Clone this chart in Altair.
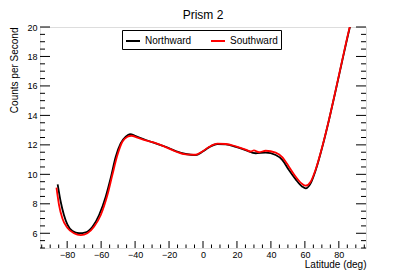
import altair as alt
import pandas as pd

TITLE = "Prism 2"

# Northward (black)
lat_n = [-85.6, -83.8, -81.9, -79.9, -76.9, -73.0, -69.1, -65.1, -61.2, -57.3, -54.4, -51.4,
         -48.5, -45.5, -43.0, -39.6, -33.7, -27.9, -22.0, -16.1, -10.2, -4.3, -0.4, 3.5, 8.5,
         13.4, 19.3, 25.1, 31.0, 36.9, 42.8, 46.8, 50.6, 54.6, 58.5, 60.5, 63.4, 66.4, 70.3,
         74.2, 78.2, 82.1, 86.1, 88.0]
val_n = [9.32, 8.14, 7.24, 6.60, 6.15, 6.00, 6.06, 6.44, 7.24, 8.48, 9.73, 11.20,
         12.10, 12.55, 12.72, 12.60, 12.33, 12.10, 11.87, 11.58, 11.38, 11.31, 11.53, 11.83, 12.06,
         12.04, 11.87, 11.65, 11.43, 11.47, 11.31, 10.97, 10.29, 9.66, 9.16, 9.05, 9.39, 10.29, 11.87,
         13.69, 15.72, 17.76, 19.80, 20.70]

# Southward (red)
lat_s = [-86.3, -84.8, -82.8, -79.9, -76.0, -72.0, -68.1, -64.2, -60.2, -56.3, -53.4, -50.4,
         -47.5, -44.5, -42.2, -38.6, -33.7, -27.9, -22.0, -16.1, -10.2, -4.3, -0.4, 3.5, 8.5,
         13.4, 19.3, 25.1, 28.0, 30.0, 33.0, 36.9, 42.8, 46.8, 50.6, 54.6, 58.5, 60.5, 63.4,
         66.4, 70.3, 74.2, 78.2, 82.1, 86.1, 88.0]
val_s = [9.09, 7.92, 7.00, 6.37, 6.00, 5.88, 6.00, 6.44, 7.24, 8.59, 9.95, 11.31,
         12.21, 12.55, 12.62, 12.49, 12.30, 12.12, 11.85, 11.55, 11.35, 11.33, 11.55, 11.85, 12.08,
         12.06, 11.90, 11.68, 11.55, 11.62, 11.50, 11.60, 11.47, 11.15, 10.52, 9.84, 9.34, 9.23, 9.50,
         10.35, 11.90, 13.70, 15.75, 17.80, 19.85, 20.70]

series = ["Northward", "Southward"]
colors = ["black", "#ff0000"]

x_major = [-80, -60, -40, -20, 0, 20, 40, 60, 80]
x_minor = [v for v in range(-95, 96, 5) if v not in x_major]
y_major = [6, 8, 10, 12, 14, 16, 18, 20]
y_minor = [v / 2 for v in range(10, 41) if (v / 2) not in y_major]

W, H = 326, 221
FONT = "Liberation Sans"

df = pd.concat([
    pd.DataFrame({"lat": lat_n, "val": val_n, "dir": series[0]}),
    pd.DataFrame({"lat": lat_s, "val": val_s, "dir": series[1]}),
])

xs = alt.Scale(domain=[-96, 96], nice=False, zero=False)
ys = alt.Scale(domain=[5, 20], nice=False, zero=False)

xaxis = alt.Axis(
    values=x_major, ticks=False, domain=False, grid=False, labelFontSize=9, labelFont=FONT,
    labelPadding=2, labelColor="black", title="Latitude (deg)", titleFont=FONT, titleFontSize=10,
    titleFontWeight="normal", titleAnchor="end", titleAlign="right", titleX=W, titleY=19,
    titleBaseline="alphabetic", titleColor="black", labelFlush=False, labelOverlap=False)
yaxis = alt.Axis(
    values=y_major, ticks=False, domain=False, grid=False, labelFontSize=9, labelFont=FONT,
    labelPadding=3, labelColor="black", title="Counts per Second", titleFont=FONT,
    titleFontSize=10, titleFontWeight="normal", titleAngle=-90, titleAlign="right",
    titleX=-25.5, titleY=0, titleBaseline="middle", titleColor="black",
    labelFlush=False, labelOverlap=False)

lines = alt.Chart(df).mark_line(strokeWidth=1.8, interpolate="monotone", clip=True).encode(
    x=alt.X("lat:Q", scale=xs, axis=xaxis),
    y=alt.Y("val:Q", scale=ys, axis=yaxis),
    color=alt.Color("dir:N", scale=alt.Scale(domain=series, range=colors), legend=alt.Legend(
        title=None, orient="none", legendX=82, legendY=3, direction="horizontal",
        symbolType="stroke", symbolSize=196, symbolStrokeWidth=2, labelFontSize=10, labelFont=FONT,
        labelColor="black", labelOffset=4, columnPadding=15, padding=3, strokeColor="black",
        fillColor="white", cornerRadius=0)),
)

xmaj = alt.Chart(pd.DataFrame({"t": x_major})).mark_rule(color="black").encode(
    x=alt.X("t:Q", scale=xs, axis=xaxis), y=alt.value(H), y2=alt.value(H - 7))
xmin = alt.Chart(pd.DataFrame({"t": x_minor})).mark_rule(color="black").encode(
    x=alt.X("t:Q", scale=xs, axis=xaxis), y=alt.value(H), y2=alt.value(H - 3.5))
ylmaj = alt.Chart(pd.DataFrame({"t": y_major})).mark_rule(color="black").encode(
    y=alt.Y("t:Q", scale=ys, axis=yaxis), x=alt.value(0), x2=alt.value(10))
ylmin = alt.Chart(pd.DataFrame({"t": y_minor})).mark_rule(color="black").encode(
    y=alt.Y("t:Q", scale=ys, axis=yaxis), x=alt.value(0), x2=alt.value(5))
yrmaj = alt.Chart(pd.DataFrame({"t": y_major})).mark_rule(color="black").encode(
    y=alt.Y("t:Q", scale=ys, axis=yaxis), x=alt.value(W), x2=alt.value(W - 10))
yrmin = alt.Chart(pd.DataFrame({"t": y_minor})).mark_rule(color="black").encode(
    y=alt.Y("t:Q", scale=ys, axis=yaxis), x=alt.value(W), x2=alt.value(W - 5))

title = alt.Chart(pd.DataFrame({"title": [TITLE]})).mark_text(
    font=FONT, fontSize=12, color="black", align="center", baseline="alphabetic"
).encode(text="title:N", x=alt.value(W / 2), y=alt.value(-8))

chart = alt.layer(lines, xmaj, xmin, ylmaj, ylmin, yrmaj, yrmin, title).properties(
    width=W, height=H,
    autosize=alt.AutoSizeParams(type="none"),
    padding={"left": 32, "top": 19, "right": 25, "bottom": 23},
).configure_view(stroke="black", strokeWidth=1).configure(background="white")

chart.save("out.html", embed_options={"renderer": "svg", "actions": False})
